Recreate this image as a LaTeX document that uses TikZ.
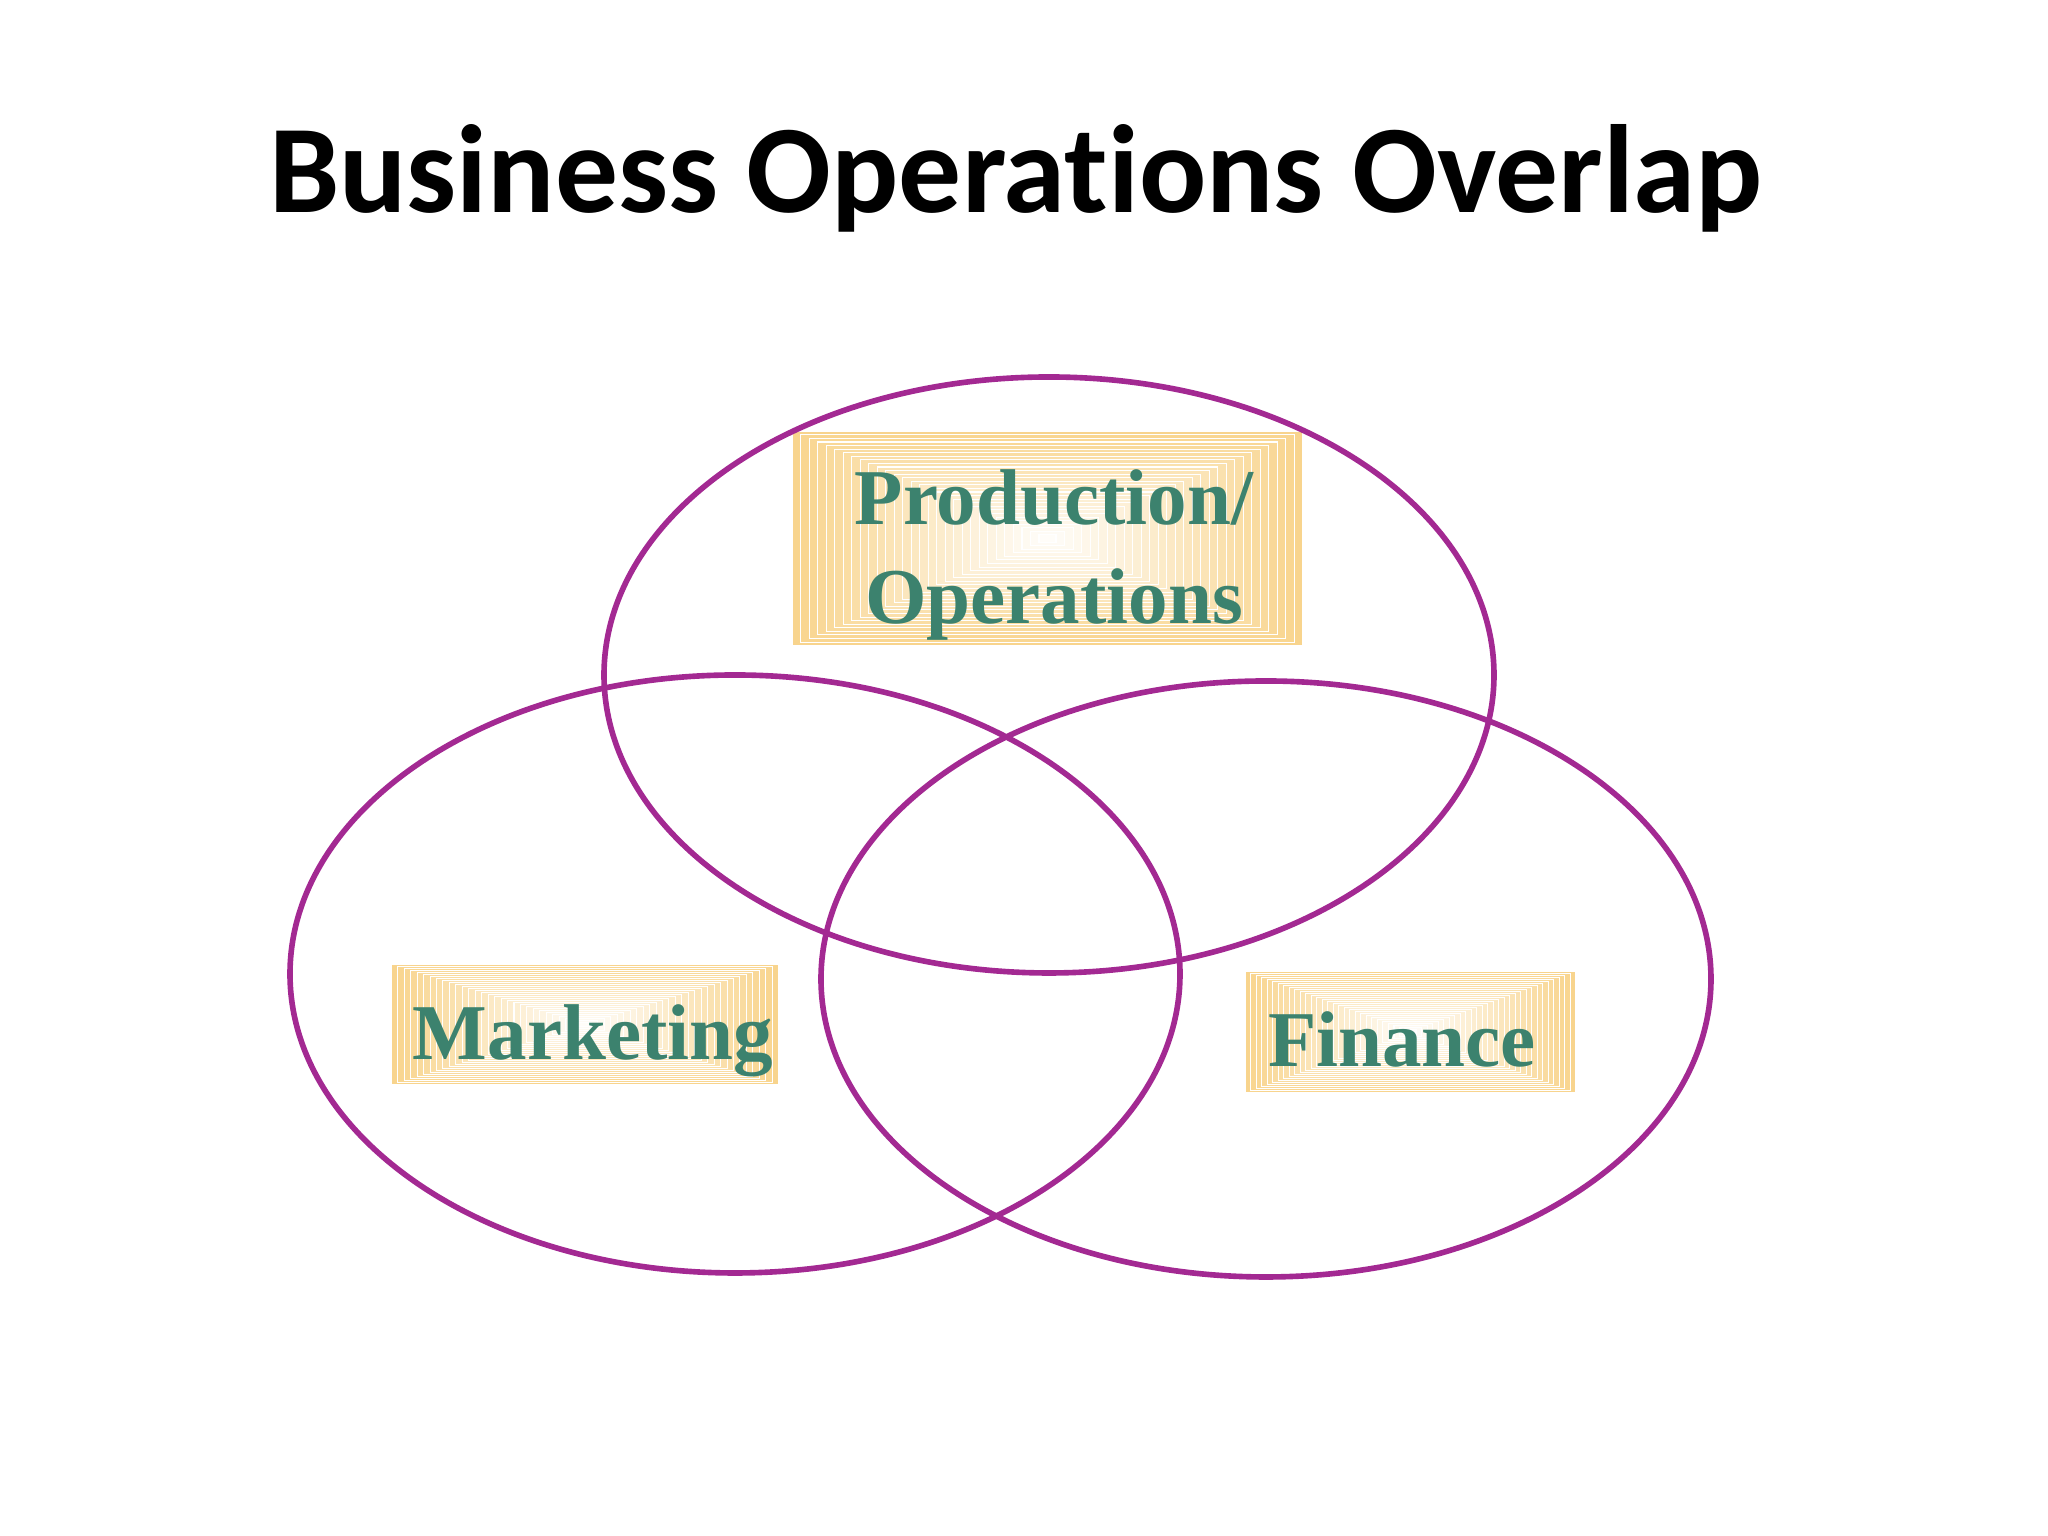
\documentclass[tikz,border=0pt]{standalone}
\usepackage{fontspec}
\setmainfont{Liberation Serif}
\newfontfamily\titlefont[Ligatures=NoCommon]{Carlito}
\usetikzlibrary{calc}

\definecolor{ringpurple}{RGB}{163,41,146}
\definecolor{labelteal}{RGB}{60,130,110}
\definecolor{boxorange}{RGB}{248,210,135}

\pgfdeclarelayer{background}
\pgfsetlayers{background,main}

\tikzset{
  ring/.style={draw=ringpurple, line width=1.6pt},
  patch/.style={inner sep=0pt},
  area/.style={inner sep=0pt, text=labelteal, align=center,
    font=\fontsize{22.5}{28}\selectfont\bfseries},
  heading/.style={font=\titlefont\fontsize{35.7}{40}\selectfont\bfseries, anchor=base}
}

% striped, fading fill of a box node
\newcommand{\stripebox}[1]{%
  \begin{pgfonlayer}{background}
    \foreach \i in {0,...,29} {
      \pgfmathsetmacro{\pct}{95-\i*3.1}
      \fill[boxorange!\pct!white, draw=white, line width=0.3pt]
        ($(#1.south west)!\i/60!(#1.north east)$) rectangle
        ($(#1.north east)!\i/60!(#1.south west)$);
    }
  \end{pgfonlayer}
}

\begin{document}
\begin{tikzpicture}

  % Page frame
  \useasboundingbox (0,0) rectangle (20.48,15.36);

  % Title
  \node[heading] (title) at (10.16,13.23) {Business Operations Overlap};

  % Centers of the three rings
  \coordinate (P) at (10.49,8.61);
  \coordinate (M) at (7.35,5.62);
  \coordinate (F) at (12.66,5.57);

  % Draw the rings
  \draw[ring] (P) ellipse (4.45 and 2.98);
  \draw[ring] (M) ellipse (4.45 and 2.99);
  \draw[ring] (F) ellipse (4.45 and 2.98);

  % Boxes behind the labels
  \node[patch, minimum width=5.09cm, minimum height=2.13cm] (prodbox) at (10.475,9.975) {};
  \node[patch, minimum width=3.86cm, minimum height=1.19cm] (mktbox) at (5.85,5.115) {};
  \node[patch, minimum width=3.29cm, minimum height=1.20cm] (finbox) at (14.105,5.04) {};
  \stripebox{prodbox}
  \stripebox{mktbox}
  \stripebox{finbox}

  % Labels
  \node[area] (prod) at (10.54,9.81) {Production/\\Operations};
  \node[area] (mkt) at (5.93,4.95) {Marketing};
  \node[area] (fin) at (14.02,4.97) {Finance};

\end{tikzpicture}
\end{document}
